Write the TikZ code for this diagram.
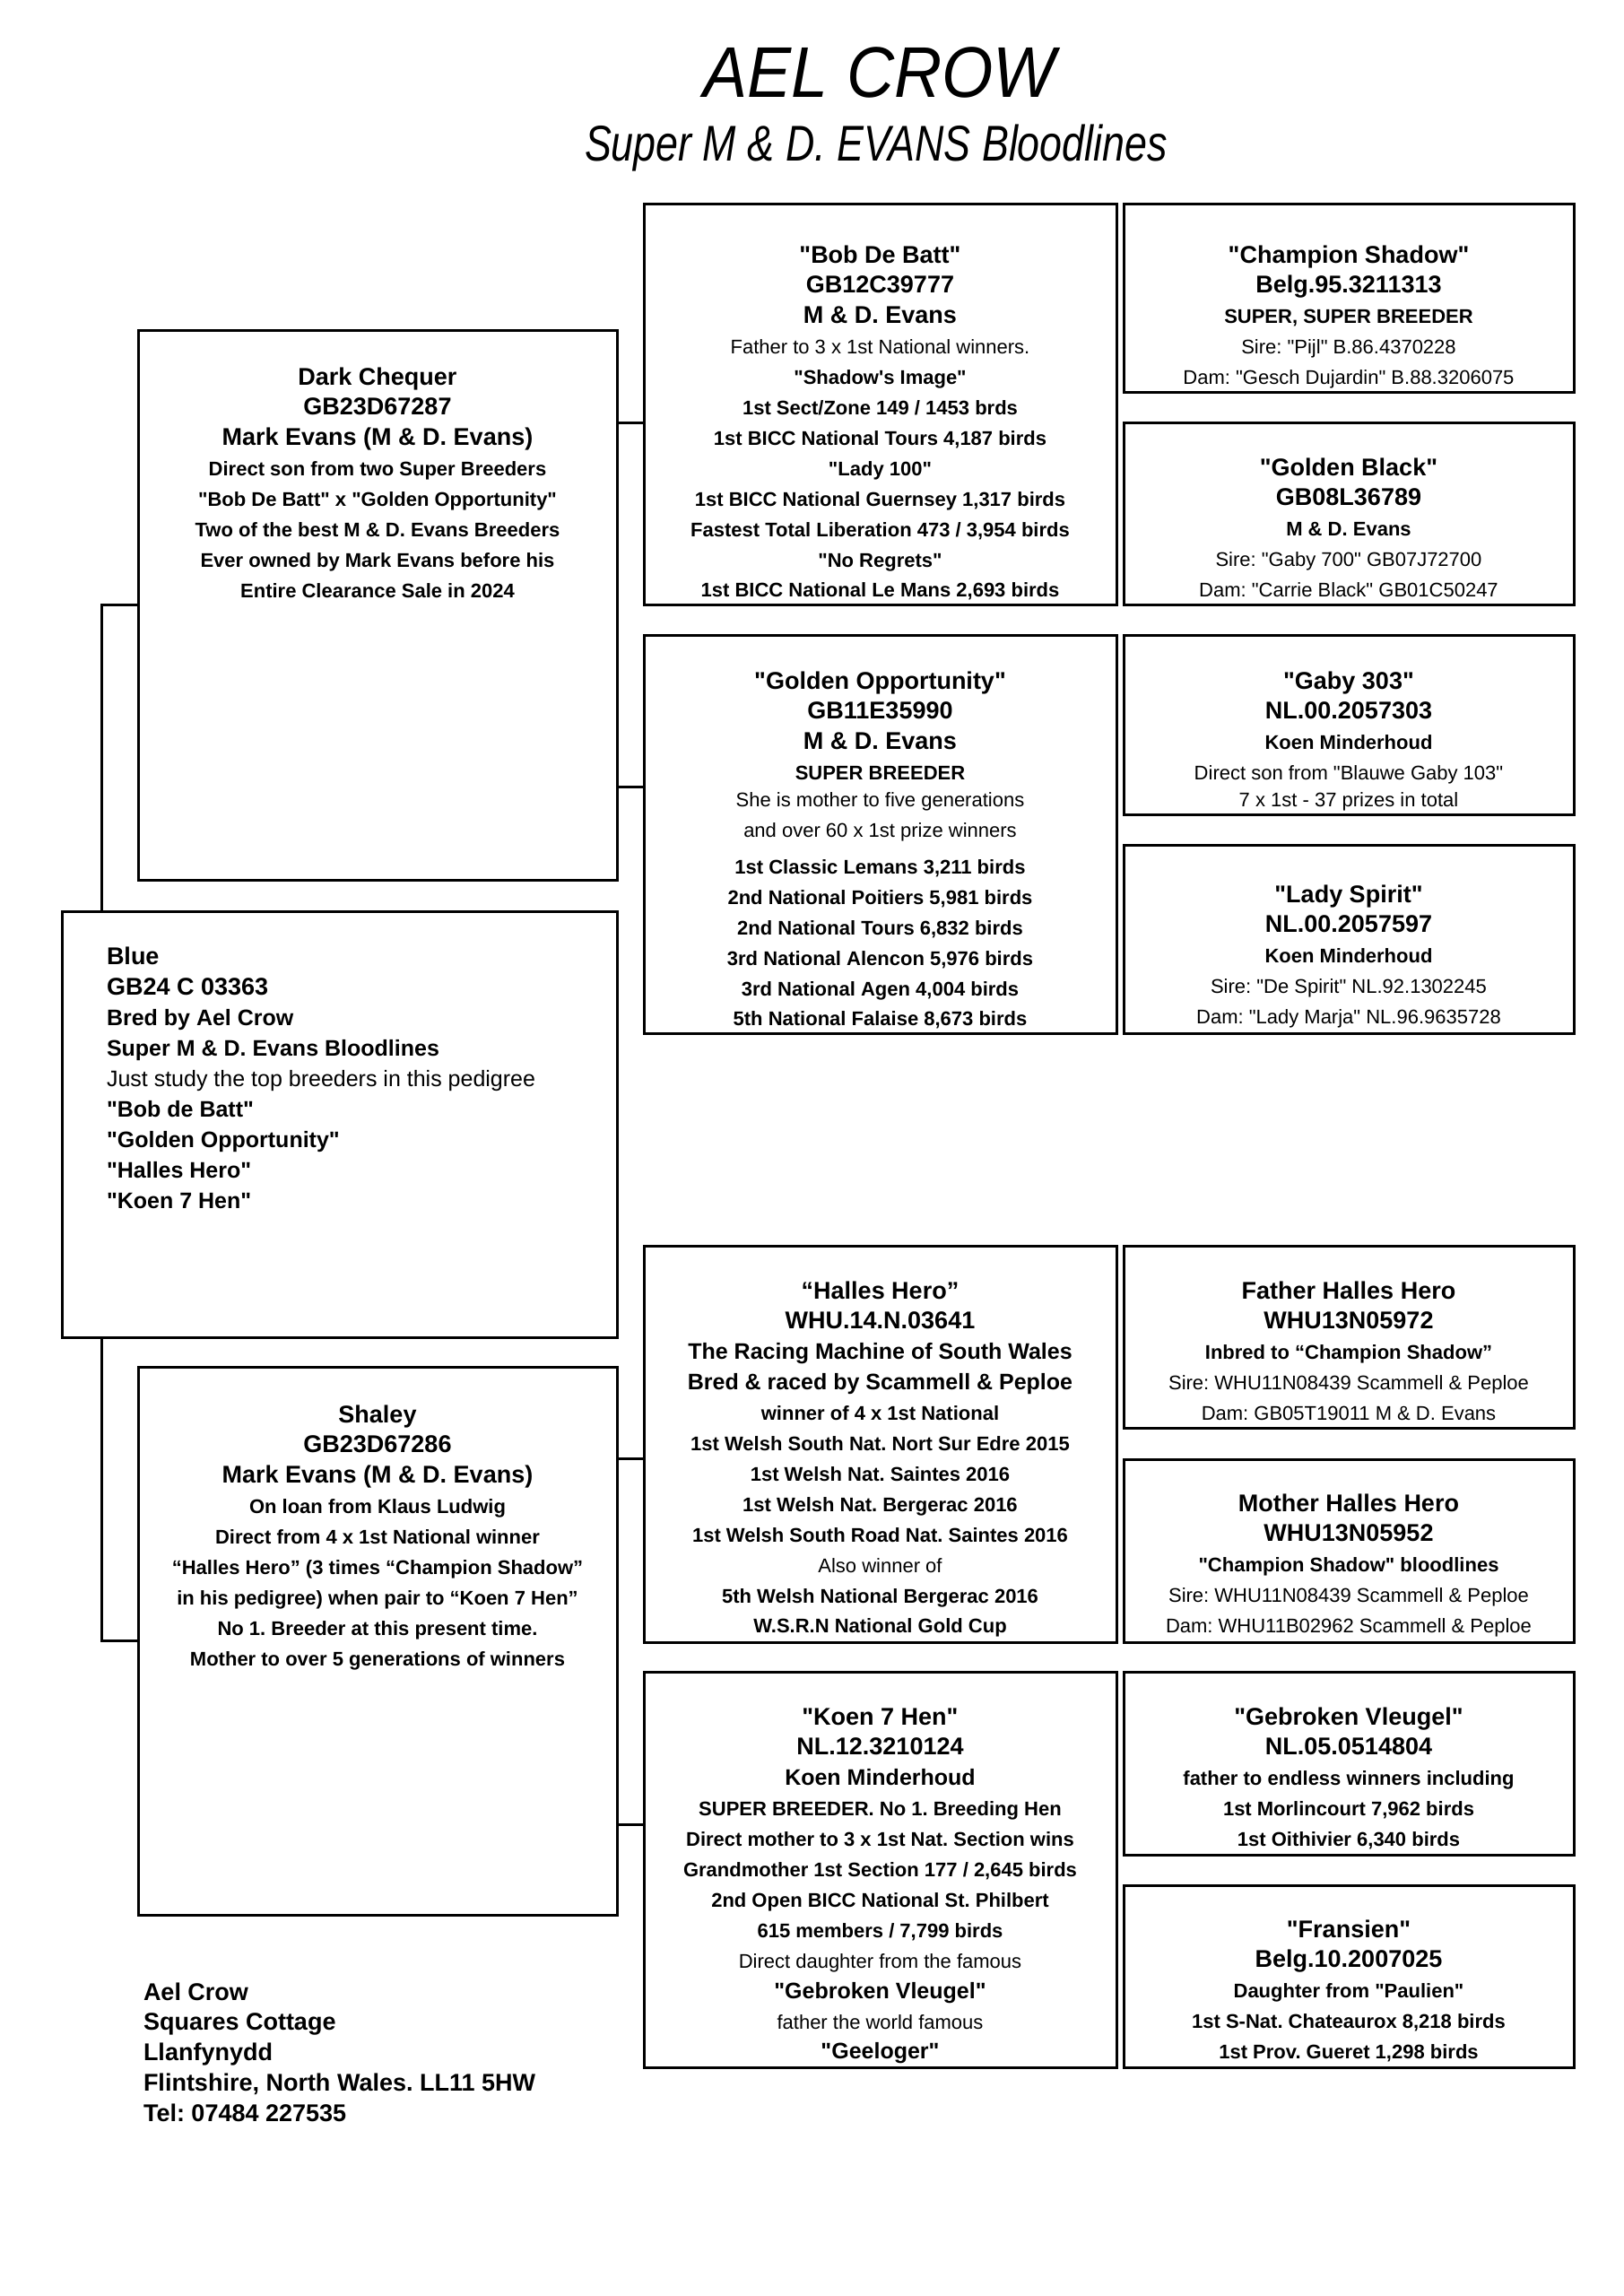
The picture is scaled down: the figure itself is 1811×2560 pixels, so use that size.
\documentclass[tikz,border=0pt]{standalone}
\usepackage{fontspec}
\setmainfont{Liberation Sans}[Ligatures=TeXOff]
\newfontfamily\titlefont[FakeStretch=0.92]{Liberation Sans}
\newfontfamily\subfont[FakeStretch=0.80]{Liberation Sans}
\newcommand{\pedbox}[6][]{%
  \node[pbox,#1, minimum width={(#5-#3)*1pt}, minimum height={(#6-#4)*1pt}] (#2) at ({(#3+#5)/2},{(#4+#6)/2}) {};}
\newcommand{\hd}[1]{{\fontsize{27}{34}\selectfont\bfseries #1}}
\newcommand{\md}[1]{{\fontsize{25}{34}\selectfont\bfseries #1}}
\newcommand{\bd}[1]{{\bfseries #1}}
\newcommand{\ctext}[1]{\parbox[t]{540pt}{\centering\fontsize{22}{33.9}\selectfont #1}}
\begin{document}
\frenchspacing
\begin{tikzpicture}[x=1pt,y=-1pt,
  pbox/.style={draw, line width=3pt, inner sep=0pt, outer sep=0pt},
  openbox/.style={inner sep=0pt, outer sep=0pt},
  link/.style={line width=3pt},
  txt/.style={inner sep=0pt, outer sep=0pt, anchor=base, text=black}]
\fill[white] (0,0) rectangle (1811,2560);
\useasboundingbox (0,0) rectangle (1811,2560);

% title
\node[txt] (title) at (981,108) {\titlefont\itshape\fontsize{80}{80}\selectfont AEL CROW};
\node[txt] (subtitle) at (977,179) {\subfont\itshape\fontsize{56}{56}\selectfont Super M \& D. EVANS Bloodlines};

% boxes
\pedbox{dc}{154}{368}{688}{981}
\pedbox{blue}{69}{1016}{688}{1491}
\pedbox{shaley}{154}{1524}{688}{2135}
\pedbox[openbox]{bob}{718}{227}{1245}{674}
\draw[line width=3pt] ([yshift=-41pt]bob.north east) -- (bob.south east) -- (bob.south west) -- (bob.north west) -- (bob.north east);
\pedbox{go}{718}{708}{1245}{1152}
\pedbox{hh}{718}{1389}{1245}{1831}
\pedbox{ks}{718}{1864}{1245}{2305}
\pedbox{cs}{1253}{227}{1755}{437}
\pedbox{gb}{1253}{471}{1755}{674}
\pedbox{gaby}{1253}{708}{1755}{908}
\pedbox{ls}{1253}{942}{1755}{1152}
\pedbox{fhh}{1253}{1389}{1755}{1592}
\pedbox{mhh}{1253}{1627}{1755}{1831}
\pedbox{gv}{1253}{1864}{1755}{2068}
\pedbox{fr}{1253}{2102}{1755}{2305}

% connectors
\coordinate (sp) at (113,0);
\coordinate (y1) at (0,471);
\coordinate (y2) at (0,877);
\coordinate (y3) at (0,1626);
\coordinate (y4) at (0,2034);
\draw[link] (dc.west) -| (blue.north -| sp);
\draw[link] (shaley.west) -| (blue.south -| sp);
\draw[link] (dc.east |- y1) -- (bob.west |- y1);
\draw[link] (dc.east |- y2) -- (go.west |- y2);
\draw[link] (shaley.east |- y3) -- (hh.west |- y3);
\draw[link] (shaley.east |- y4) -- (ks.west |- y4);

% texts column 1
\node[txt] (dcT) at (421,429) {\ctext{\bfseries
 \hd{Dark Chequer}\\ \hd{GB23D67287}\\ \hd{Mark Evans (M \& D. Evans)}\\
 Direct son from two Super Breeders\\
 "Bob De Batt" x "Golden Opportunity"\\
 Two of the best M \& D. Evans Breeders\\
 Ever owned by Mark Evans before his\\
 Entire Clearance Sale in 2024}};

\node[txt, anchor=base west] (blueT) at (119,1075) {\parbox[t]{560pt}{\raggedright\fontsize{25}{34}\selectfont\bfseries
 \hd{Blue}\\ \hd{GB24 C 03363}\\ Bred by Ael Crow\\ Super M \& D. Evans Bloodlines\\
 {\mdseries Just study the top breeders in this pedigree}\\
 "Bob de Batt"\\ "Golden Opportunity"\\ "Halles Hero"\\ "Koen 7 Hen"}};

\node[txt] (shaleyT) at (421,1586) {\ctext{\bfseries
 \hd{Shaley}\\ \hd{GB23D67286}\\ \hd{Mark Evans (M \& D. Evans)}\\
 On loan from Klaus Ludwig\\
 Direct from 4 x 1st National winner\\
 “Halles Hero” (3 times “Champion Shadow”\\
 in his pedigree) when pair to “Koen 7 Hen”\\
 No 1. Breeder at this present time.\\
 Mother to over 5 generations of winners}};

\node[txt, anchor=base west] (addrT) at (160,2230) {\parbox[t]{600pt}{\raggedright\fontsize{27}{33.8}\selectfont\bfseries
 Ael Crow\\ Squares Cottage\\ Llanfynydd\\ Flintshire, North Wales. LL11 5HW\\ Tel: 07484 227535}};

% texts column 2
\node[txt] (bobT) at (981.5,293) {\ctext{
 \hd{"Bob De Batt"}\\ \hd{GB12C39777}\\ \hd{M \& D. Evans}\\
 Father to 3 x 1st National winners.\\
 \bd{"Shadow's Image"}\\
 \bd{1st Sect/Zone 149 / 1453 brds}\\
 \bd{1st BICC National Tours 4,187 birds}\\
 \bd{"Lady 100"}\\
 \bd{1st BICC National Guernsey 1,317 birds}\\
 \bd{Fastest Total Liberation 473 / 3,954 birds}\\
 \bd{"No Regrets"}\\
 \bd{1st BICC National Le Mans 2,693 birds}}};

\node[txt] (goT) at (981.5,768) {\ctext{
 \hd{"Golden Opportunity"}\\ \hd{GB11E35990}\\ \hd{M \& D. Evans}\\
 \bd{SUPER BREEDER}\\[-4pt]
 She is mother to five generations\\
 and over 60 x 1st prize winners\\[7pt]
 \bd{1st Classic Lemans 3,211 birds}\\
 \bd{2nd National Poitiers 5,981 birds}\\
 \bd{2nd National Tours 6,832 birds}\\
 \bd{3rd National Alencon 5,976 birds}\\
 \bd{3rd National Agen 4,004 birds}\\
 \bd{5th National Falaise 8,673 birds}}};

\node[txt] (hhT) at (981.5,1448) {\ctext{
 \hd{“Halles Hero”}\\ \hd{WHU.14.N.03641}\\
 \md{The Racing Machine of South Wales}\\
 \md{Bred \& raced by Scammell \& Peploe}\\
 \bd{winner of 4 x 1st National}\\
 \bd{1st Welsh South Nat. Nort Sur Edre 2015}\\
 \bd{1st Welsh Nat. Saintes 2016}\\
 \bd{1st Welsh Nat. Bergerac 2016}\\
 \bd{1st Welsh South Road Nat. Saintes 2016}\\
 Also winner of\\
 \bd{5th Welsh National Bergerac 2016}\\
 \bd{W.S.R.N National Gold Cup}}};

\node[txt] (ksT) at (981.5,1923) {\ctext{
 \hd{"Koen 7 Hen"}\\ \hd{NL.12.3210124}\\ \md{Koen Minderhoud}\\
 \bd{SUPER BREEDER. No 1. Breeding Hen}\\
 \bd{Direct mother to 3 x 1st Nat. Section wins}\\
 \bd{Grandmother 1st Section 177 / 2,645 birds}\\
 \bd{2nd Open BICC National St. Philbert}\\
 \bd{615 members / 7,799 birds}\\
 Direct daughter from the famous\\
 \md{"Gebroken Vleugel"}\\
 father the world famous\\
 \md{"Geeloger"}}};

% texts column 3
\node[txt] (csT) at (1504,293) {\ctext{
 \hd{"Champion Shadow"}\\ \hd{Belg.95.3211313}\\ \bd{SUPER, SUPER BREEDER}\\
 Sire: "Pijl" B.86.4370228\\ Dam: "Gesch Dujardin" B.88.3206075}};
\node[txt] (gbT) at (1504,530) {\ctext{
 \hd{"Golden Black"}\\ \hd{GB08L36789}\\ \bd{M \& D. Evans}\\
 Sire: "Gaby 700" GB07J72700\\ Dam: "Carrie Black" GB01C50247}};
\node[txt] (gabyT) at (1504,768) {\ctext{
 \hd{"Gaby 303"}\\ \hd{NL.00.2057303}\\ \bd{Koen Minderhoud}\\
 Direct son from "Blauwe Gaby 103"\\[-4pt] 7 x 1st - 37 prizes in total}};
\node[txt] (lsT) at (1504,1006) {\ctext{
 \hd{"Lady Spirit"}\\ \hd{NL.00.2057597}\\ \bd{Koen Minderhoud}\\
 Sire: "De Spirit" NL.92.1302245\\ Dam: "Lady Marja" NL.96.9635728}};
\node[txt] (fhhT) at (1504,1448) {\ctext{
 \hd{Father Halles Hero}\\ \hd{WHU13N05972}\\ \bd{Inbred to “Champion Shadow”}\\
 Sire: WHU11N08439 Scammell \& Peploe\\ Dam: GB05T19011 M \& D. Evans}};
\node[txt] (mhhT) at (1504,1685) {\ctext{
 \hd{Mother Halles Hero}\\ \hd{WHU13N05952}\\ \bd{"Champion Shadow" bloodlines}\\
 Sire: WHU11N08439 Scammell \& Peploe\\ Dam: WHU11B02962 Scammell \& Peploe}};
\node[txt] (gvT) at (1504,1923) {\ctext{
 \hd{"Gebroken Vleugel"}\\ \hd{NL.05.0514804}\\ \bd{father to endless winners including}\\
 \bd{1st Morlincourt 7,962 birds}\\ \bd{1st Oithivier 6,340 birds}}};
\node[txt] (frT) at (1504,2160) {\ctext{
 \hd{"Fransien"}\\ \hd{Belg.10.2007025}\\ \bd{Daughter from "Paulien"}\\
 \bd{1st S-Nat. Chateaurox 8,218 birds}\\ \bd{1st Prov. Gueret 1,298 birds}}};
\end{tikzpicture}
\end{document}
